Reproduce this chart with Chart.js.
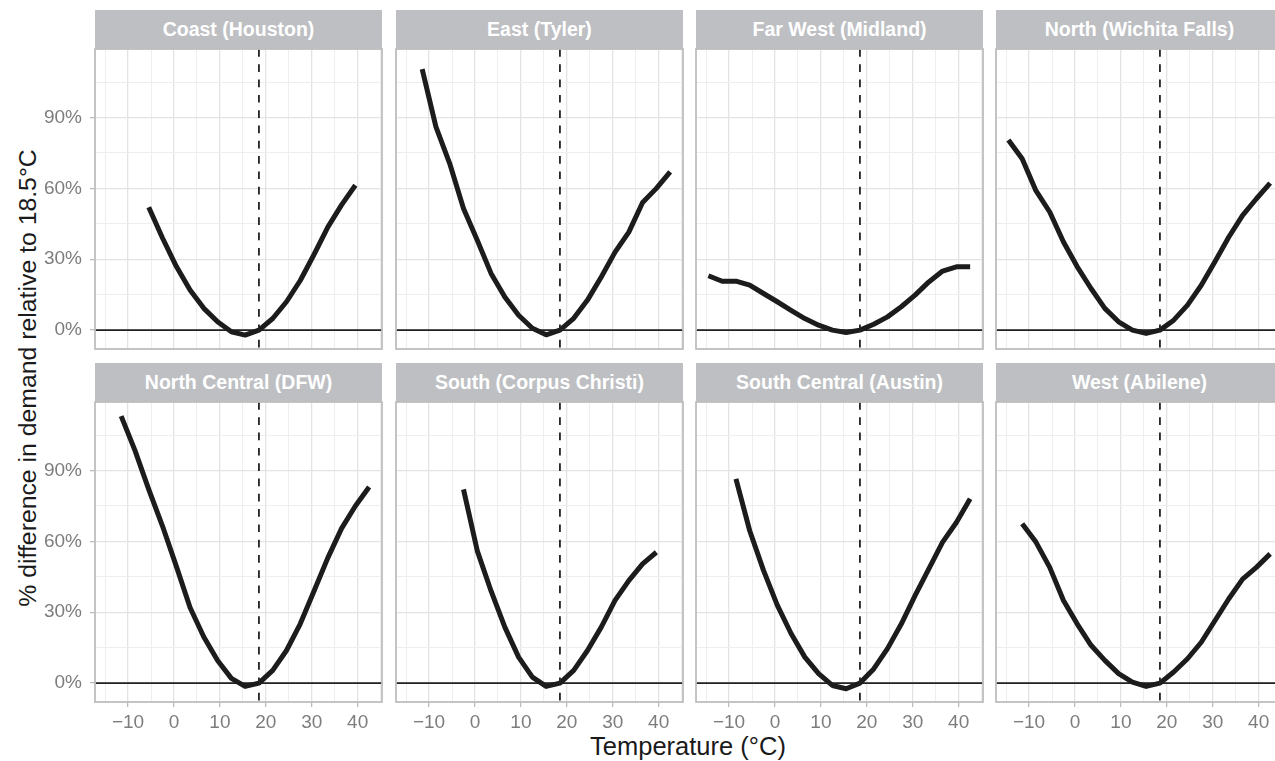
<!DOCTYPE html>
<html lang="en">
<head>
<meta charset="UTF-8">
<title>Demand vs temperature by region</title>
<script src="https://cdn.jsdelivr.net/npm/chart.js"></script>
<style>
    body {
        margin: 0;
        width: 1275px;
        height: 761px;
        overflow: hidden;
        position: relative;
        background: #fff;
        font-family: "Liberation Sans", Arial, sans-serif;
    }
    .strip {
        position: absolute;
        background: #BEBFC3;
        color: #fff;
        font-weight: bold;
        font-size: 19.5px;
        display: flex;
        align-items: center;
        justify-content: center;
        white-space: nowrap;
    }
    canvas { position: absolute; }
    .ytitle {
        position: absolute;
        left: 28px;
        top: 378px;
        transform: translate(-50%, -50%) rotate(-90deg);
        white-space: nowrap;
        font-size: 24.8px;
        color: #1a1a1a;
    }
    .xtitle {
        position: absolute;
        left: 688px;
        top: 746px;
        transform: translate(-50%, -50%);
        white-space: nowrap;
        font-size: 25.5px;
        color: #1a1a1a;
    }
</style>
</head>
<body>
<div class="ytitle">% difference in demand relative to 18.5°C</div>
<div class="xtitle">Temperature (°C)</div>

<script>
    // temperature grid (°C), one point every 3 degrees around the 18.5 reference
    const temps = [-14.5, -11.5, -8.5, -5.5, -2.5, 0.5, 3.5, 6.5, 9.5, 12.5, 15.5, 18.5, 21.5, 24.5, 27.5, 30.5, 33.5, 36.5, 39.5, 42.5];

    const regions = ['Coast (Houston)', 'East (Tyler)', 'Far West (Midland)', 'North (Wichita Falls)',
                     'North Central (DFW)', 'South (Corpus Christi)', 'South Central (Austin)', 'West (Abilene)'];

    // % difference in demand
    const coast        = [null, null, null, 52, 39, 27, 17, 9.2, 3.5, -0.7, -2.1, 0, 4.9, 12, 21, 32, 43.6, 53, 61.3, null];
    const east         = [null, 110.5, 86, 70.5, 51.5, 38, 24, 14, 6.3, 0.8, -2, 0, 5, 12.7, 22.5, 33, 41.5, 54, 60, 67];
    const farWest      = [23, 20.7, 20.7, 19, 15.5, 12, 8.4, 4.9, 2.1, 0, -1, 0, 2.5, 5.6, 9.9, 14.8, 20.4, 25, 26.8, 26.8];
    const north        = [80.5, 72.5, 59, 50, 37.3, 26.8, 17.6, 9.2, 3.5, 0, -1.4, 0, 4.2, 10.6, 19, 29, 39.4, 48.6, 55.6, 62.2];
    const northCentral = [null, 113, 98.5, 82, 66.5, 49.5, 32, 19.5, 9.6, 2, -1.4, 0, 5.4, 13.8, 25.1, 39, 53, 65.5, 75, 83];
    const south        = [null, null, null, null, 82, 56, 39, 23.7, 11, 2.5, -1.4, 0, 5.4, 13.8, 23.7, 35, 43.4, 50.5, 55.4, null];
    const southCentral = [null, null, 86.5, 64.5, 47.7, 33, 21, 11, 4, -1, -2.4, 0, 6, 14.6, 25, 37, 48.4, 59.7, 68, 78];
    const west         = [null, 67.5, 59.7, 49, 35, 25, 16, 9.6, 4, 0.4, -1.4, 0, 4.7, 10.3, 17.3, 26.5, 35.7, 44, 49, 54.7];

    const series = [coast, east, farWest, north, northCentral, south, southCentral, west];

    const xTickLabels = [-10, 0, 10, 20, 30, 40];
    const yTickLabels = [0, 30, 60, 90];
    const refTemp = 18.5;
    const xMin = -17.2, xMax = 45.3;
    const yMin = -8, yMax = 119;

    // layout of the facet grid
    const colLeft = [95, 396, 696, 996];
    const rowTop = [49, 402];
    const panelW = 287, panelH = 300, stripH = 39;
    const topM = 25, rightM = 12;
    const tickGrey = '#7d7d7d';

    const frame = {
        id: 'frame',
        afterDraw(chart) {
            const a = chart.chartArea;
            const c = chart.ctx;
            c.save();
            c.strokeStyle = '#BEBEBE';
            c.lineWidth = 1.8;
            c.strokeRect(a.left, a.top, a.right - a.left, a.bottom - a.top);
            c.restore();
        }
    };

    function fmtX(v) {
        return v < 0 ? '\u2212' + Math.abs(v) : String(v);
    }

    regions.forEach((name, i) => {
        const col = i % 4, row = Math.floor(i / 4);
        const showY = col === 0, showX = row === 1;
        const leftM = showY ? 95 : 12, bottomM = showX ? 45 : 25;
        const px = colLeft[col], py = rowTop[row];

        const strip = document.createElement('div');
        strip.className = 'strip';
        strip.textContent = name;
        strip.style.left = px + 'px';
        strip.style.top = (py - stripH) + 'px';
        strip.style.width = panelW + 'px';
        strip.style.height = stripH + 'px';
        document.body.appendChild(strip);

        const cv = document.createElement('canvas');
        const w = panelW + leftM + rightM, h = panelH + topM + bottomM;
        cv.width = w; cv.height = h;
        cv.style.width = w + 'px'; cv.style.height = h + 'px';
        cv.style.left = (px - leftM) + 'px';
        cv.style.top = (py - topM) + 'px';
        document.body.appendChild(cv);

        new Chart(cv.getContext('2d'), {
            type: 'line',
            data: {
                datasets: [
                    {
                        data: [{x: refTemp, y: yMax}, {x: refTemp, y: yMin}],
                        borderColor: '#222', borderWidth: 1.8, borderDash: [7.7, 7.6],
                        pointRadius: 0
                    },
                    {
                        data: temps.map((t, k) => ({x: t, y: series[i][k]})),
                        borderColor: '#1c1c1c', borderWidth: 5,
                        borderCapStyle: 'butt', borderJoinStyle: 'round',
                        pointRadius: 0, tension: 0
                    },
                    {
                        data: [{x: xMin, y: 0}, {x: xMax, y: 0}],
                        borderColor: '#222', borderWidth: 1.6, pointRadius: 0
                    }
                ]
            },
            options: {
                responsive: false,
                animation: false,
                layout: { padding: { top: topM, right: rightM, left: 0, bottom: 0 } },
                plugins: { legend: { display: false }, tooltip: { enabled: false } },
                scales: {
                    x: {
                        type: 'linear', min: xMin, max: xMax,
                        afterFit: s => { s.height = bottomM; },
                        border: { display: false },
                        grid: {
                            color: c => c.tick && c.tick.value % 10 === 0 ? '#E3E3E3' : '#EEEEEE',
                            lineWidth: c => c.tick && c.tick.value % 10 === 0 ? 1.3 : 1,
                            drawTicks: showX, tickLength: 5,
                            tickColor: c => c.tick && c.tick.value % 10 === 0 ? '#BBBBBB' : 'rgba(0,0,0,0)'
                        },
                        ticks: {
                            display: showX, stepSize: 5, includeBounds: false, autoSkip: false, maxRotation: 0,
                            color: tickGrey, padding: 4,
                            font: { size: 19, family: '"Liberation Sans", Arial, sans-serif' },
                            callback: v => xTickLabels.includes(v) ? fmtX(v) : ''
                        }
                    },
                    y: {
                        min: yMin, max: yMax,
                        afterFit: s => { s.width = leftM; },
                        border: { display: false },
                        grid: {
                            color: c => c.tick && c.tick.value % 30 === 0 ? '#E3E3E3' : '#EEEEEE',
                            lineWidth: c => c.tick && c.tick.value % 30 === 0 ? 1.3 : 1,
                            drawTicks: showY, tickLength: 5,
                            tickColor: c => c.tick && c.tick.value % 30 === 0 ? '#BBBBBB' : 'rgba(0,0,0,0)'
                        },
                        ticks: {
                            display: showY, stepSize: 15, includeBounds: false, autoSkip: false,
                            color: tickGrey, padding: 8,
                            font: { size: 19, family: '"Liberation Sans", Arial, sans-serif' },
                            callback: v => yTickLabels.includes(v) ? v + '%' : ''
                        }
                    }
                }
            },
            plugins: [frame]
        });
    });
</script>
</body>
</html>
